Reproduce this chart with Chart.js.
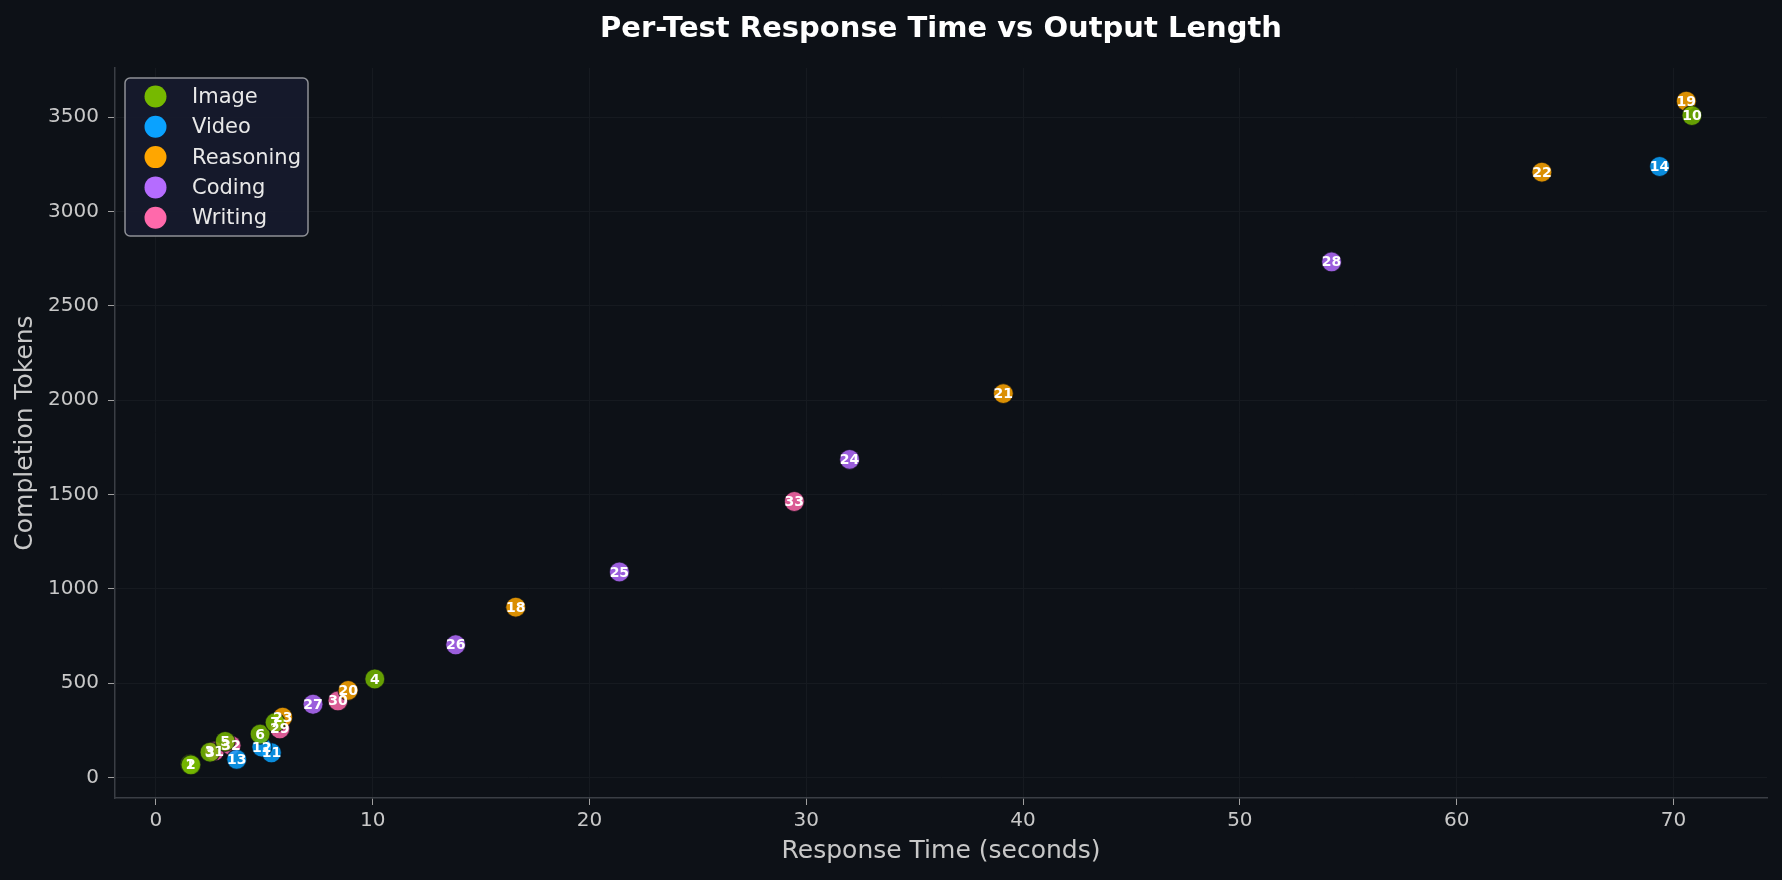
<!DOCTYPE html>
<html>
<head>
<meta charset="utf-8">
<title>Per-Test Response Time vs Output Length</title>
<script src="https://cdn.jsdelivr.net/npm/chart.js@4.4.1/dist/chart.umd.min.js"></script>
<style>
  html, body { margin: 0; padding: 0; background: #0d1117; }
  #scatterChart { display: block; }
</style>
</head>
<body>
<canvas id="scatterChart" width="1782" height="880"></canvas>
<script>
const chartTitle = "Per-Test Response Time vs Output Length";
const categories = ["Image", "Video", "Reasoning", "Coding", "Writing"];
const catColors = ["#76b900", "#0aa2ff", "#ffa600", "#b56cff", "#ff69ab"];

// test ids, response time (s), completion tokens
const imageIds = [1, 2, 3, 4, 5, 6, 7, 10];
const imageTimes = [1.58, 1.62, 2.5, 10.1, 3.2, 4.81, 5.5, 70.85];
const imageTokens = [72, 68, 135, 523, 192, 231, 292, 3508];

const videoIds = [11, 12, 13, 14];
const videoTimes = [5.33, 4.89, 3.73, 69.36];
const videoTokens = [132, 162, 97, 3238];

const reasoningIds = [18, 19, 20, 21, 22, 23];
const reasoningTimes = [16.6, 70.59, 8.87, 39.09, 63.93, 5.85];
const reasoningTokens = [903, 3584, 462, 2035, 3208, 320];

const codingIds = [24, 25, 26, 27, 28];
const codingTimes = [32.0, 21.38, 13.83, 7.25, 54.23];
const codingTokens = [1686, 1090, 704, 389, 2733];

const writingIds = [29, 30, 31, 32, 33];
const writingTimes = [5.72, 8.4, 2.7, 3.47, 29.45];
const writingTokens = [259, 407, 140, 171, 1463];

const xTicks = [0, 10, 20, 30, 40, 50, 60, 70];
const yTicks = [0, 500, 1000, 1500, 2000, 2500, 3000, 3500];

const groups = [
    [imageIds, imageTimes, imageTokens],
    [videoIds, videoTimes, videoTokens],
    [reasoningIds, reasoningTimes, reasoningTokens],
    [codingIds, codingTimes, codingTokens],
    [writingIds, writingTimes, writingTokens]
];

function withAlpha(hex, a) {
    const n = parseInt(hex.slice(1), 16);
    return `rgba(${(n >> 16) & 255}, ${(n >> 8) & 255}, ${n & 255}, ${a})`;
}

// matplotlib-like 5% margins
const allX = groups.flatMap(g => g[1]);
const allY = groups.flatMap(g => g[2]);
const xPad = (Math.max(...allX) - Math.min(...allX)) * 0.05;
const yPad = (Math.max(...allY) - Math.min(...allY)) * 0.05;

const datasets = groups.map((g, i) => ({
    label: categories[i],
    ids: g[0],
    data: g[1].map((t, j) => ({ x: t, y: g[2][j] })),
    backgroundColor: withAlpha(catColors[i], 0.85),
    borderColor: "rgba(13, 17, 23, 0.7)",
    borderWidth: 1.2,
    pointRadius: 10,
    pointHoverRadius: 10
}));

const FONT = '"DejaVu Sans", "Liberation Sans", sans-serif';

// white id labels on top of every point
const pointLabels = {
    id: "pointLabels",
    afterDatasetsDraw(chart) {
        const ctx = chart.ctx;
        ctx.save();
        ctx.font = `bold 14px ${FONT}`;
        ctx.fillStyle = "#ffffff";
        ctx.textAlign = "center";
        ctx.textBaseline = "middle";
        chart.data.datasets.forEach((ds, i) => {
            chart.getDatasetMeta(i).data.forEach((pt, j) => {
                ctx.fillText(String(ds.ids[j]), pt.x, pt.y + 1);
            });
        });
        ctx.restore();
    }
};

// legend box inside the upper left of the plot
const insideLegend = {
    id: "insideLegend",
    afterDraw(chart) {
        const ctx = chart.ctx;
        const area = chart.chartArea;
        const x0 = area.left + 10, y0 = area.top + 10;
        const w = 183, h = 158, rowH = 30.3;
        ctx.save();
        ctx.beginPath();
        ctx.roundRect(x0, y0, w, h, 5);
        ctx.fillStyle = "rgba(22, 26, 44, 0.95)";
        ctx.fill();
        ctx.lineWidth = 1.5;
        ctx.strokeStyle = "#8e9096";
        ctx.stroke();
        ctx.font = `21px ${FONT}`;
        ctx.textBaseline = "middle";
        categories.forEach((name, i) => {
            const cy = y0 + 18.5 + i * rowH;
            ctx.beginPath();
            ctx.arc(x0 + 30.5, cy, 11, 0, Math.PI * 2);
            ctx.fillStyle = catColors[i];
            ctx.fill();
            ctx.fillStyle = "#e8e8e8";
            ctx.fillText(name, x0 + 67, cy + 1);
        });
        ctx.restore();
    }
};

// title centred over the plot area
const plotTitle = {
    id: "plotTitle",
    afterDraw(chart) {
        const ctx = chart.ctx;
        const area = chart.chartArea;
        ctx.save();
        ctx.font = `bold 29px ${FONT}`;
        ctx.fillStyle = "#ffffff";
        ctx.textAlign = "center";
        ctx.textBaseline = "middle";
        ctx.fillText(chartTitle, (area.left + area.right) / 2, 29);
        ctx.restore();
    }
};

const bg = {
    id: "bg",
    beforeDraw(chart) {
        const ctx = chart.ctx;
        ctx.save();
        ctx.fillStyle = "#0d1117";
        ctx.fillRect(0, 0, chart.width, chart.height);
        ctx.restore();
    }
};

const ctx = document.getElementById("scatterChart").getContext("2d");
new Chart(ctx, {
    type: "scatter",
    data: { datasets: datasets },
    plugins: [bg, pointLabels, insideLegend, plotTitle],
    options: {
        responsive: false,
        animation: false,
        devicePixelRatio: 1,
        layout: { padding: { top: 68, right: 15, bottom: 0, left: 0 } },
        plugins: {
            legend: { display: false },
            tooltip: { enabled: false },
            title: { display: false }
        },
        scales: {
            x: {
                type: "linear",
                min: Math.min(...allX) - xPad,
                max: Math.max(...allX) + xPad,
                afterBuildTicks: s => { s.ticks = xTicks.map(v => ({ value: v })); },
                afterFit: s => { s.height = 82; },
                grid: { color: "#161a20", lineWidth: 1, tickColor: "#a0a0a0", tickLength: 7 },
                border: { color: "#3a3e45", width: 1.5 },
                ticks: {
                    color: "#c8c8c8", font: { family: FONT, size: 20 }, padding: 4, maxRotation: 0,
                    callback: v => String(v)
                },
                title: {
                    display: true,
                    text: "Response Time (seconds)",
                    color: "#c8c8c8",
                    font: { family: FONT, size: 25 },
                    padding: { top: 0, bottom: 14 }
                }
            },
            y: {
                type: "linear",
                min: Math.min(...allY) - yPad,
                max: Math.max(...allY) + yPad,
                afterBuildTicks: s => { s.ticks = yTicks.map(v => ({ value: v })); },
                afterFit: s => { s.width = 115; },
                grid: { color: "#161a20", lineWidth: 1, tickColor: "#a0a0a0", tickLength: 7 },
                border: { color: "#3a3e45", width: 1.5 },
                ticks: {
                    color: "#c8c8c8", font: { family: FONT, size: 20 }, padding: 9,
                    callback: v => String(v)
                },
                title: {
                    display: true,
                    text: "Completion Tokens",
                    color: "#c8c8c8",
                    font: { family: FONT, size: 25 },
                    padding: { top: 10, bottom: 0 }
                }
            }
        }
    }
});
</script>
</body>
</html>
